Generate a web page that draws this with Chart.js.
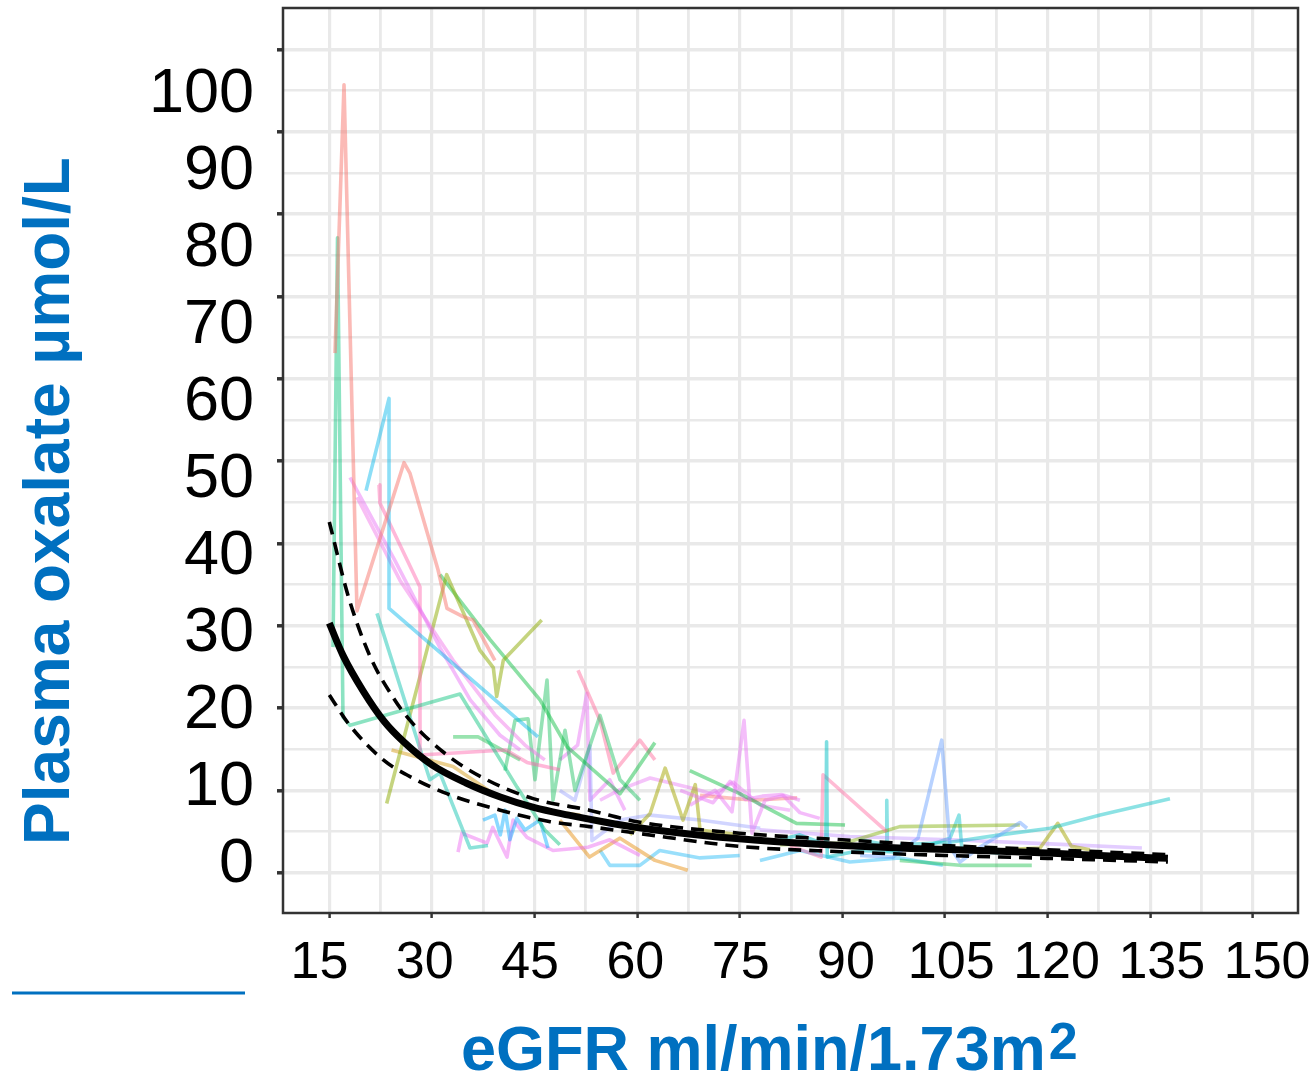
<!DOCTYPE html>
<html>
<head>
<meta charset="utf-8">
<script src="https://cdn.jsdelivr.net/npm/chart.js@4/dist/chart.umd.min.js"></script>
<style>
  html, body { margin: 0; padding: 0; background: #ffffff; }
  canvas { display: block; }
</style>
</head>
<body>
<canvas id="chart" width="1314" height="1076"></canvas>
<script>
// ---- Fitted curve and its confidence band (eGFR, plasma oxalate) ----
const fitEgfr    = [15, 17, 20, 23, 26, 30, 35, 40, 45, 50, 55, 60, 70, 80, 90, 100, 110, 120, 130, 137.6];
const fitValue   = [30.3, 26.4, 22.0, 18.4, 15.8, 13.1, 10.9, 9.2, 7.9, 7.0, 6.2, 5.5, 4.5, 3.8, 3.3, 2.95, 2.7, 2.4, 2.0, 1.75];
const upperEgfr  = [15, 17.8, 21, 24.4, 26.8, 32.2, 38, 44.8, 53, 60, 75, 90, 105, 120, 137.6];
const upperValue = [42.6, 33.5, 26.2, 21.2, 18.5, 14.3, 11.3, 9.0, 7.6, 6.2, 4.8, 4.0, 3.3, 2.8, 2.2];
const lowerEgfr  = [15, 17.8, 22.9, 26.3, 32.2, 40, 47.3, 53, 60, 75, 90, 105, 120, 137.6];
const lowerValue = [21.6, 18.1, 13.7, 11.9, 9.6, 7.6, 6.2, 5.6, 4.8, 3.2, 2.55, 2.1, 1.75, 1.3];

// ---- Individual patient trajectories: [eGFR, plasma oxalate] ----
const pt01 = [[15.83,63.1],[17.15,95.7],[19.05,31.8],[25.92,49.8],[26.8,48.5],[30.89,36.8],[32.2,32.1],[34.55,31.1],[36.0,30.7],[39.2,25.8]];
const pt02 = [[15.54,27.4],[16.2,77.1],[17.0,18.9],[18.03,17.9],[34.1,21.7],[42.44,10.4],[46.5,5.2],[48.7,3.4]];
const pt03 = [[20.37,46.4],[23.73,57.6],[23.73,32.1],[45.5,16.5]];
const pt04 = [[18.03,48.0],[24.6,37.9],[31.2,27.3],[35.6,21.0],[39.96,16.7],[42.9,14.9]];
const pt05 = [[19.05,45.6],[25.34,35.5],[33.1,25.8],[39.2,19.2],[43.6,15.5],[46.5,13.7]];
const pt06 = [[22.27,47.1],[22.4,44.9],[28.26,34.7],[28.26,14.3],[40.83,14.9],[43.9,13.4],[48.7,12.5]];
const pt07 = [[21.97,31.5],[29.7,11.3],[31.18,12.1],[35.57,3.0],[38.2,3.3]];
const pt08 = [[23.39,8.4],[32.16,36.2],[37.03,27.0],[38.98,24.9],[39.47,21.4],[40.44,25.8],[46.05,30.7]];
const pt09 = [[31.18,36.2],[38.5,28.3],[45.8,21.0],[49.75,15.3],[57.5,9.6],[62.6,15.8]];
const pt10 = [[40.69,12.4],[42.15,18.5],[44.05,18.7],[45.07,11.3],[46.83,23.4],[47.7,8.8],[49.46,17.3],[50.92,10.0],[54.58,19.1],[57.5,11.3],[60.4,8.8]];
const pt11 = [[51.36,24.6],[54.58,18.5],[56.5,12.1],[60.4,16.1],[62.6,13.7]];
const pt12 = [[37.47,6.4],[39.2,7.0],[40.0,4.6],[40.7,7.6],[41.4,4.0],[42.4,6.6],[43.6,5.2],[45.8,6.4],[46.97,3.0]];
const pt13 = [[33.82,2.5],[34.4,4.8],[38.06,3.6],[38.9,5.5],[40.98,1.9],[41.86,6.4],[43.9,4.3],[47.7,2.7],[52.8,3.1],[56.0,4.0],[60.4,2.1]];
const pt14 = [[67.73,8.2],[71.4,10.0],[73.87,7.4],[75.63,18.5],[76.8,4.8],[78.7,8.8],[81.6,9.4],[83.8,8.8]];
const pt15 = [[80.9,4.0],[83.8,4.6],[87.6,3.4],[87.7,15.9],[87.8,1.9],[92.6,2.7],[98.4,2.5]];
const pt16 = [[82.35,3.3],[86.9,1.9],[87.18,11.9],[96.5,5.0]];
const pt17 = [[92.6,2.1],[97.4,1.9],[101.07,4.2],[104.53,16.1],[105.75,3.1],[107.2,1.3],[110.1,3.1],[115.96,6.1],[117.0,5.4]];
const pt18 = [[98.42,3.4],[105.75,3.7],[113.06,4.6],[120.37,5.4],[127.7,7.0],[137.9,9.0]];
const pt19 = [[80.9,3.4],[90.4,3.6],[98.4,5.6],[115.96,5.8]];
const pt20 = [[113.06,2.8],[118.9,3.0],[121.5,6.0],[123.5,3.2],[126.2,2.8]];
const pt21 = [[77.96,5.2],[91.1,4.4],[105.75,4.0],[120.37,3.5],[133.8,3.0]];
const pt22 = [[98.4,1.5],[107.2,0.9],[117.7,0.9]];
const pt23 = [[77.96,1.5],[83.8,2.7],[91.1,1.3],[98.4,1.8],[104.7,0.9]];
const pt24 = [[92.6,4.0],[96.4,3.4],[96.5,8.8],[96.6,2.7],[101.36,3.0],[105.75,4.2],[107.06,7.0],[107.5,2.7],[113.06,2.4]];
const pt25 = [[67.7,12.4],[75.0,9.6],[83.3,6.0],[90.4,5.8]];
const pt26 = [[66.3,10.0],[71.1,8.5],[73.6,11.1],[75.8,8.9],[78.3,9.3],[81.2,9.5],[83.8,7.3],[86.7,6.6]];
const pt27 = [[48.7,6.4],[53.05,1.9],[57.5,4.2],[62.6,1.5],[67.4,0.3]];
const pt28 = [[24.1,14.9],[33.1,12.9],[39.0,9.6],[45.8,7.6],[51.7,7.0]];
const pt29 = [[58.96,4.6],[61.9,7.2],[64.1,12.7],[66.7,6.4],[68.5,10.7],[69.2,5.2],[75.0,4.6]];
const pt30 = [[33.1,16.5],[36.75,16.5],[42.9,13.7]];
const pt31 = [[69.2,9.4],[77.0,8.8],[83.4,9.1]];
const pt32 = [[54.58,8.8],[57.5,10.1],[61.9,11.5],[68.8,10.1],[71.1,9.5],[74.05,11.0],[78.0,8.2],[82.35,7.6]];
const pt33 = [[48.7,10.0],[50.9,8.8],[53.1,15.4],[53.4,3.9],[57.5,6.4],[61.9,7.0],[69.2,6.4],[78.0,5.4]];
const pt34 = [[48.7,13.7],[51.3,15.5],[52.65,21.8],[53.1,8.8],[56.0,11.3],[58.2,7.6]];
const pt35 = [[54.6,2.7],[56.0,0.9],[60.4,0.9],[63.3,2.7],[69.2,1.8],[75.0,2.1]];

const patients = [pt01, pt02, pt03, pt04, pt05, pt06, pt07, pt08, pt09, pt10, pt11, pt12, pt13, pt14, pt15, pt16, pt17, pt18,
                  pt19, pt20, pt21, pt22, pt23, pt24, pt25, pt26, pt27, pt28, pt29, pt30, pt31, pt32, pt33, pt34, pt35];

// ---- Axis ticks ----
const xTickLabels = [15, 30, 45, 60, 75, 90, 105, 120, 135, 150];
const xGridValues = [15, 22.5, 30, 37.5, 45, 52.5, 60, 67.5, 75, 82.5, 90, 97.5, 105, 112.5, 120, 127.5, 135, 142.5, 150];
const yTickLabels = [0, 10, 20, 30, 40, 50, 60, 70, 80, 90, 100];
const yGridValues = [0, 5, 10, 15, 20, 25, 30, 35, 40, 45, 50, 55, 60, 65, 70, 75, 80, 85, 90, 95, 100];

// ---- Text ----
const yTitle = 'Plasma oxalate µmol/L';
const xTitle = 'eGFR ml/min/1.73m';
const xTitleSup = '2';

// ---- Styling ----
const FONT = '"Liberation Sans", Arial, Helvetica, sans-serif';
const titleBlue = '#0070c0';
const patientColors = [
  'rgba(248,118,109,0.5)', 'rgba(0,192,120,0.45)', 'rgba(0,182,235,0.45)', 'rgba(231,107,243,0.45)',
  'rgba(240,110,230,0.45)', 'rgba(255,97,170,0.45)', 'rgba(0,191,170,0.45)', 'rgba(140,170,0,0.5)',
  'rgba(0,186,56,0.45)', 'rgba(20,190,90,0.45)', 'rgba(255,100,150,0.45)', 'rgba(0,170,255,0.45)',
  'rgba(235,100,240,0.45)', 'rgba(230,110,245,0.45)', 'rgba(0,190,196,0.5)', 'rgba(255,105,160,0.45)',
  'rgba(97,156,255,0.45)', 'rgba(0,190,196,0.45)', 'rgba(124,174,0,0.45)', 'rgba(163,165,0,0.5)',
  'rgba(185,131,255,0.4)', 'rgba(0,186,56,0.4)', 'rgba(0,176,246,0.4)', 'rgba(0,191,196,0.45)',
  'rgba(0,186,56,0.45)', 'rgba(231,107,243,0.45)', 'rgba(229,135,0,0.45)', 'rgba(216,160,30,0.5)',
  'rgba(163,165,0,0.5)', 'rgba(0,186,56,0.4)', 'rgba(248,118,109,0.45)', 'rgba(231,107,243,0.4)',
  'rgba(140,150,255,0.4)', 'rgba(231,107,243,0.45)', 'rgba(0,176,246,0.4)'
];

const toPoints = (xs, ys) => xs.map((x, i) => ({ x: x, y: ys[i] }));
const pairsToPoints = arr => arr.map(p => ({ x: p[0], y: p[1] }));

const datasets = [
  {
    label: 'fit', data: toPoints(fitEgfr, fitValue), borderColor: '#000000', borderWidth: 7,
    cubicInterpolationMode: 'monotone', pointRadius: 0, order: 0
  },
  {
    label: 'upper', data: toPoints(upperEgfr, upperValue), borderColor: '#000000', borderWidth: 3.6,
    borderDash: [13, 8], cubicInterpolationMode: 'monotone', pointRadius: 0, order: 1
  },
  {
    label: 'lower', data: toPoints(lowerEgfr, lowerValue), borderColor: '#000000', borderWidth: 3.6,
    borderDash: [13, 8], cubicInterpolationMode: 'monotone', pointRadius: 0, order: 1
  }
].concat(patients.map((p, i) => ({
  label: 'patient ' + (i + 1), data: pairsToPoints(p), borderColor: patientColors[i],
  borderWidth: 3.6, pointRadius: 0, tension: 0, order: 2
})));

// Panel frame, axis titles and the rule beside the x labels
const decorations = {
  id: 'decorations',
  afterDraw(chart) {
    const { ctx, chartArea: a } = chart;
    ctx.save();
    ctx.strokeStyle = '#333333';
    ctx.lineWidth = 2.5;
    ctx.strokeRect(a.left, a.top, a.right - a.left, a.bottom - a.top);

    ctx.fillStyle = titleBlue;
    ctx.fillRect(12, 991.5, 233, 3);

    ctx.textBaseline = 'alphabetic';
    ctx.textAlign = 'left';
    ctx.font = 'bold 63px ' + FONT;
    const xStart = 461;
    ctx.fillText(xTitle, xStart, 1070);
    const w = ctx.measureText(xTitle).width;
    ctx.font = 'bold 52px ' + FONT;
    ctx.fillText(xTitleSup, xStart + w + 3, 1059);

    ctx.translate(69, 501);
    ctx.rotate(-Math.PI / 2);
    ctx.textAlign = 'center';
    ctx.font = 'bold 64px ' + FONT;
    ctx.fillText(yTitle, 0, 0);
    ctx.restore();
  }
};

const isMajor = (c, step) => c.tick && Math.abs(c.tick.value / step - Math.round(c.tick.value / step)) < 1e-6;

// Axis boxes get fixed sizes and no extra label overhang padding
const fixSize = (w, h) => s => {
  if (w !== null) s.width = w;
  if (h !== null) s.height = h;
  s.paddingTop = 0; s.paddingBottom = 0; s.paddingLeft = 0; s.paddingRight = 0;
};

new Chart(document.getElementById('chart'), {
  type: 'line',
  data: { datasets: datasets },
  plugins: [decorations],
  options: {
    responsive: false,
    animation: false,
    devicePixelRatio: 1,
    layout: { padding: { top: 8, right: 16, bottom: 0, left: 0 } },
    plugins: { legend: { display: false }, tooltip: { enabled: false }, title: { display: false } },
    elements: { line: { fill: false, borderCapStyle: 'butt', borderJoinStyle: 'round' } },
    scales: {
      x: {
        type: 'linear', position: 'bottom', min: 8.23, max: 156.62,
        afterBuildTicks: s => { s.ticks = xGridValues.map(v => ({ value: v })); },
        afterFit: fixSize(null, 6),
        ticks: { display: false },
        border: { display: false },
        grid: {
          color: '#e9e9e9',
          lineWidth: c => isMajor(c, 15) ? 3.2 : 2.8,
          drawTicks: true, tickLength: 5, tickWidth: 2.5,
          tickColor: c => isMajor(c, 15) ? '#333333' : 'rgba(0,0,0,0)'
        }
      },
      y: {
        type: 'linear', position: 'left', min: -4.89, max: 105.02,
        afterBuildTicks: s => { s.ticks = yGridValues.map(v => ({ value: v })); },
        afterFit: fixSize(6, null),
        ticks: { display: false },
        border: { display: false },
        grid: {
          color: '#e9e9e9',
          lineWidth: c => isMajor(c, 10) ? 3.6 : 2.6,
          drawTicks: true, tickLength: 6, tickWidth: 3.5,
          tickColor: c => isMajor(c, 10) ? '#333333' : 'rgba(0,0,0,0)'
        }
      },
      xLab: {
        axis: 'x', type: 'linear', position: 'bottom', min: 9.8, max: 154.4,
        afterBuildTicks: s => { s.ticks = xTickLabels.map(v => ({ value: v })); },
        afterFit: fixSize(null, 157),
        grid: { display: false, drawTicks: false },
        border: { display: false },
        ticks: {
          autoSkip: false, maxRotation: 0, minRotation: 0, padding: 13,
          color: '#000000', font: { family: FONT, size: 52 },
          callback: v => String(v)
        }
      },
      yLab: {
        axis: 'y', type: 'linear', position: 'left', min: -6.30, max: 111.23,
        afterBuildTicks: s => { s.ticks = yTickLabels.map(v => ({ value: v })); },
        afterFit: fixSize(277, null),
        grid: { display: false, drawTicks: false },
        border: { display: false },
        ticks: {
          autoSkip: false, padding: 23,
          color: '#000000', font: { family: FONT, size: 63 },
          callback: v => String(v)
        }
      }
    }
  }
});
</script>
</body>
</html>
